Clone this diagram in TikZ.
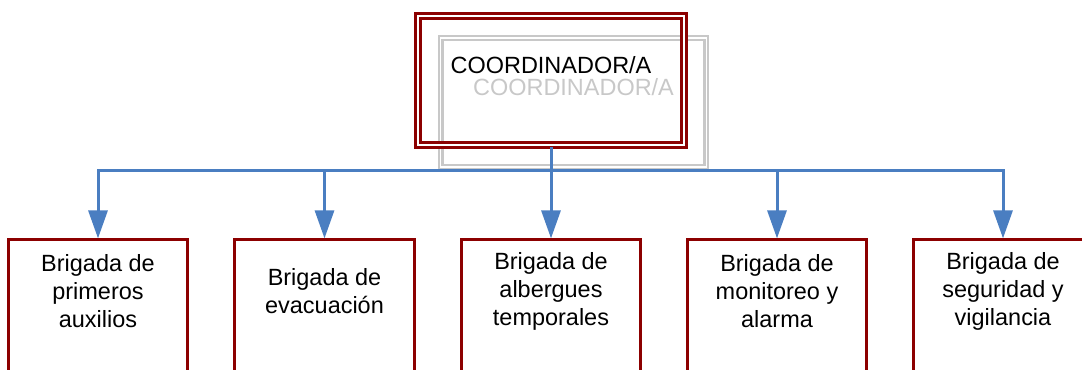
\documentclass[tikz,border=0pt]{standalone}
\usepackage{fontspec}
\setmainfont{Liberation Sans}
\usetikzlibrary{arrows.meta}
\definecolor{granate}{RGB}{140,0,0}
\definecolor{azul}{RGB}{74,126,193}
\definecolor{gris}{RGB}{200,200,200}

\begin{document}
\begin{tikzpicture}[x=0.75pt,y=-0.75pt,
  jefe/.style={draw=granate,line width=2.25pt,double=white,double distance=1.5pt,minimum width=199pt,minimum height=96.75pt,inner sep=0pt,text height=12.6pt,text depth=23.2pt,font=\fontsize{17.6pt}{21pt}\selectfont},
  sombra/.style={jefe,draw=gris,text=gris,line width=2pt,double distance=0.9pt},
  rotulo/.style={align=center,minimum width=134.25pt,minimum height=76.5pt,inner sep=0pt,font=\fontsize{17.6pt}{21pt}\selectfont},
  caja/.style={draw=granate,line width=2.25pt},
  enlace/.style={draw=azul,line width=2.25pt},
  flecha/.style={enlace,-{Triangle[width=14.25pt,length=21pt]},shorten >=1pt}]
\clip (0,0) rectangle (1082,369);

\node[sombra] (eco) at (573.5,102.5) {COORDINADOR/A};
\node[jefe] (coord) at (551,80.5) {COORDINADOR/A};

\node[rotulo] (b1) at (98,291) {Brigada de\\primeros\\auxilios};
\node[rotulo] (b2) at (324.5,291) {Brigada de\\evacuación};
\node[rotulo] (b3) at (551,291) {Brigada de\\albergues\\temporales};
\node[rotulo] (b4) at (777,291) {Brigada de\\monitoreo y\\alarma};
\node[rotulo] (b5) at (1003,291) {Brigada de\\seguridad y\\vigilancia};

\draw[caja] ([yshift=-30pt]b1.south west) -- (b1.north west) -- (b1.north east) -- ([yshift=-30pt]b1.south east);
\draw[caja] ([yshift=-30pt]b2.south west) -- (b2.north west) -- (b2.north east) -- ([yshift=-30pt]b2.south east);
\draw[caja] ([yshift=-30pt]b3.south west) -- (b3.north west) -- (b3.north east) -- ([yshift=-30pt]b3.south east);
\draw[caja] ([yshift=-30pt]b4.south west) -- (b4.north west) -- (b4.north east) -- ([yshift=-30pt]b4.south east);
\draw[caja] ([yshift=-30pt]b5.south west) -- (b5.north west) -- (b5.north east) -- ([yshift=-30pt]b5.south east);

\coordinate (bus) at (551,170);
\draw[enlace] (coord.south) -- (bus);
\draw[flecha] (bus) -| (b1.north);
\draw[flecha] (bus) -| (b2.north);
\draw[flecha] (bus) -- (b3.north);
\draw[flecha] (bus) -| (b4.north);
\draw[flecha] (bus) -| (b5.north);
\end{tikzpicture}
\end{document}
